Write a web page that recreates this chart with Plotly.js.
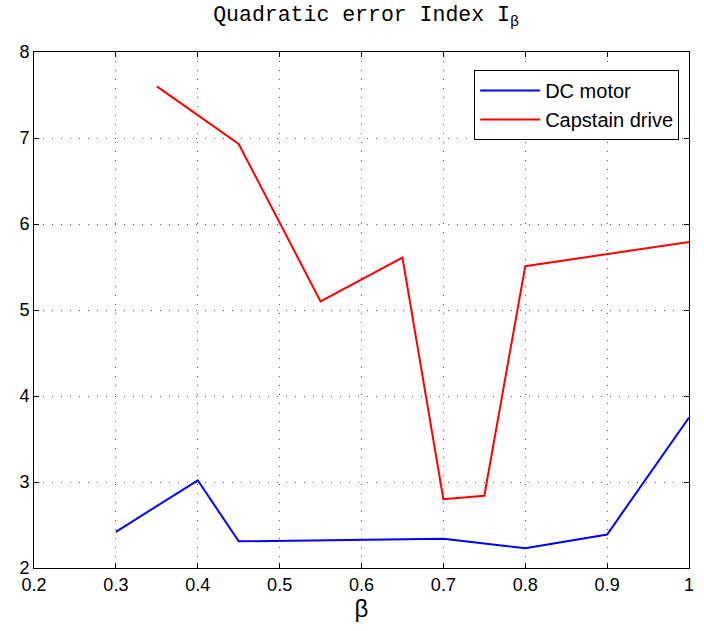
<!DOCTYPE html>
<html>
<head>
<meta charset="utf-8">
<script src="https://cdn.plot.ly/plotly-3.0.1.min.js"></script>
<style>html,body{margin:0;padding:0;background:#fff;}#chart{width:704px;height:631px;}</style>
</head>
<body>
<div id="chart"></div>
<script>
const dcBeta = [0.3, 0.4, 0.45, 0.7, 0.8, 0.9, 1.0];
const dcIndex = [2.42, 3.02, 2.31, 2.34, 2.23, 2.39, 3.75];
const capBeta = [0.35, 0.45, 0.55, 0.65, 0.7, 0.75, 0.8, 0.9, 1.0];
const capIndex = [7.6, 6.93, 5.1, 5.61, 2.8, 2.84, 5.51, 5.65, 5.79];
const xTicks = [0.2, 0.3, 0.4, 0.5, 0.6, 0.7, 0.8, 0.9, 1];
const xTickLabels = ['0.2', '0.3', '0.4', '0.5', '0.6', '0.7', '0.8', '0.9', '1'];
const yTicks = [2, 3, 4, 5, 6, 7, 8];

const axisCommon = {
  showline: true, linecolor: '#000', linewidth: 1, mirror: 'allticks',
  ticks: 'inside', ticklen: 5, tickcolor: '#000',
  showgrid: true, gridcolor: '#555', griddash: '1px,8px', gridwidth: 1,
  zeroline: false,
  tickfont: {family: 'Liberation Sans, Arial, sans-serif', size: 18, color: '#000'}
};

const data = [
  {x: dcBeta, y: dcIndex, type: 'scatter', mode: 'lines', name: 'DC motor',
   line: {color: '#0000ff', width: 2}},
  {x: capBeta, y: capIndex, type: 'scatter', mode: 'lines', name: 'Capstain drive',
   line: {color: '#ff0000', width: 2}}
];

const layout = {
  width: 704, height: 631,
  margin: {l: 34, r: 15, t: 52, b: 63},
  paper_bgcolor: '#fff', plot_bgcolor: '#fff',
  title: {text: 'Quadratic error Index I<sub>β</sub>',
    font: {family: 'Liberation Mono, Courier New, monospace', size: 21.5, color: '#000'},
    x: 0.52, xanchor: 'center', y: 0.99, yanchor: 'top'},
  xaxis: Object.assign({}, axisCommon, {
    range: [0.2, 1], tickvals: xTicks, ticktext: xTickLabels,
    title: {text: 'β', font: {family: 'Liberation Sans, Arial, sans-serif', size: 24, color: '#000'}, standoff: 6}
  }),
  yaxis: Object.assign({}, axisCommon, {
    range: [2, 8], tickvals: yTicks
  }),
  legend: {x: 0.985, y: 0.965, xanchor: 'right', yanchor: 'top',
    bgcolor: '#fff', bordercolor: '#000', borderwidth: 1,
    itemwidth: 60,
    font: {family: 'Liberation Sans, Arial, sans-serif', size: 20, color: '#000'}},
  showlegend: true
};

Plotly.newPlot('chart', data, layout, {displayModeBar: false, staticPlot: true});
</script>
</body>
</html>
